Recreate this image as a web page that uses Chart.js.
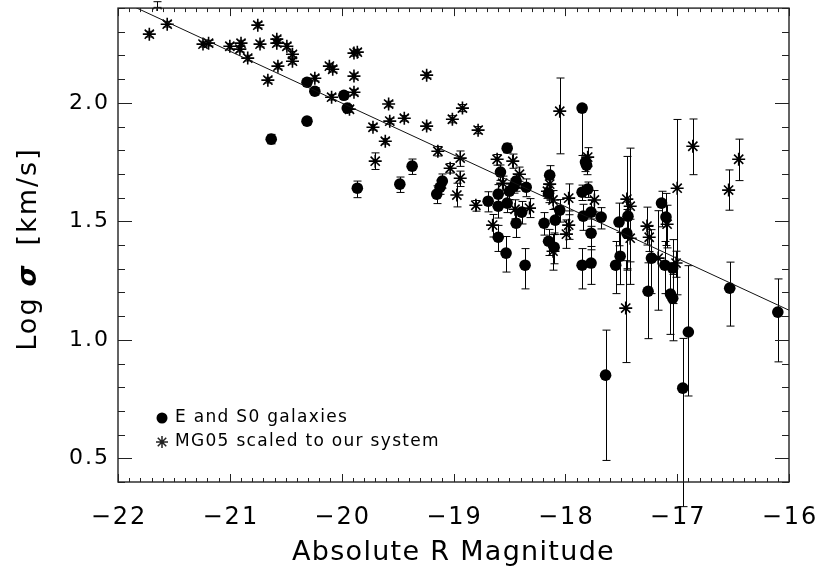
<!DOCTYPE html>
<html><head><meta charset="utf-8">
<script src="https://cdn.jsdelivr.net/npm/chart.js@4"></script>
<style>html,body{margin:0;padding:0;background:#fff;}</style>
</head><body>
<canvas id="c" width="820" height="573"></canvas>
<script>
// ---- E and S0 galaxies (filled circles) ----
const galX = [-20.63,-20.31,-20.31,-20.24,-19.98,-19.95,-19.86,-19.48,-19.37,-19.15,
  -19.12,-19.10,-18.52,-18.58,-18.60,-18.69,-18.60,-18.52,-18.50,-18.46,
  -18.44,-18.35,-18.39,-18.44,-18.60,-18.53,-18.36,-18.14,-18.15,-18.05,
  -18.09,-18.19,-18.15,-18.10,-17.85,-17.82,-17.81,-17.85,-17.80,-17.77,
  -17.84,-17.68,-17.77,-17.85,-17.77,-17.52,-17.44,-17.45,-17.51,-17.55,
  -17.14,-17.10,-17.23,-17.11,-17.04,-17.26,-17.06,-17.04,-16.53,-16.10,
  -17.64,-16.95,-16.90];
const galY = [1.847,1.923,2.087,2.049,2.032,1.978,1.640,1.657,1.733,1.615,
  1.644,1.670,1.809,1.708,1.615,1.585,1.564,1.577,1.627,1.649,
  1.670,1.644,1.539,1.492,1.433,1.366,1.315,1.695,1.619,1.547,
  1.505,1.492,1.416,1.391,1.978,1.750,1.737,1.623,1.636,1.539,
  1.522,1.518,1.450,1.315,1.324,1.497,1.522,1.450,1.353,1.315,
  1.577,1.518,1.345,1.315,1.303,1.205,1.193,1.176,1.218,1.117,
  0.851,0.796,1.033];
const galErrLo = [0.02,0.015,0.015,0.015,0.015,0.015,0.04,0.035,0.035,0.04,
  0.03,0.03,0.02,0.035,0.04,0.045,0.05,0.04,0.035,0.03,
  0.03,0.04,0.05,0.06,0.06,0.08,0.10,0.04,0.04,0.05,
  0.06,0.05,0.06,0.07,0.20,0.04,0.04,0.035,0.035,0.06,
  0.06,0.05,0.07,0.10,0.09,0.10,0.08,0.15,0.12,0.12,
  0.10,0.12,0.15,0.12,0.15,0.20,0.17,0.18,0.16,0.21,
  0.36,0.50,0.27];
const galErrHi = [0.02,0.015,0.015,0.015,0.015,0.015,0.03,0.03,0.03,0.035,
  0.03,0.03,0.02,0.03,0.04,0.04,0.045,0.04,0.03,0.03,
  0.03,0.035,0.045,0.05,0.05,0.07,0.07,0.04,0.035,0.045,
  0.05,0.045,0.05,0.06,0.015,0.03,0.03,0.03,0.03,0.05,
  0.05,0.04,0.06,0.07,0.07,0.08,0.07,0.10,0.10,0.10,
  0.05,0.10,0.12,0.10,0.12,0.12,0.12,0.10,0.11,0.14,
  0.19,0.21,0.28];

// ---- MG05 scaled to our system (asterisks) ----
const mgX = [-21.72,-21.56,-21.65,-21.24,-21.19,-21.00,-20.90,-20.91,-20.84,-20.75,
  -20.73,-20.66,-20.58,-20.58,-20.57,-20.49,-20.44,-20.44,-20.24,-20.11,
  -20.08,-19.89,-19.86,-19.89,-19.89,-20.09,-19.93,-19.58,-19.57,-19.72,
  -19.61,-19.70,-19.44,-19.24,-19.24,-19.01,-18.92,-18.78,-19.14,-18.94,
  -19.03,-18.94,-18.97,-18.80,-18.61,-18.47,-18.41,-18.56,-18.44,-18.65,
  -18.45,-18.32,-18.14,-18.16,-18.11,-17.97,-18.11,-17.97,-17.99,-18.05,
  -17.80,-17.74,-17.45,-17.42,-17.42,-17.27,-17.25,-17.09,-17.17,-17.01,
  -17.46,-17.00,-16.86,-16.54,-16.45];
const mgY = [2.290,2.332,2.415,2.248,2.252,2.239,2.252,2.227,2.189,2.328,
  2.248,2.096,2.269,2.252,2.155,2.239,2.205,2.176,2.104,2.155,
  2.142,2.210,2.214,2.113,2.045,2.024,1.973,1.995,1.923,1.897,
  1.838,1.754,1.935,2.117,1.902,1.931,1.978,1.885,1.796,1.767,
  1.724,1.682,1.611,1.568,1.762,1.754,1.699,1.661,1.657,1.484,
  1.551,1.556,1.657,1.627,1.590,1.598,1.374,1.484,1.446,1.965,
  1.771,1.590,1.594,1.564,1.429,1.480,1.433,1.488,1.345,1.324,
  1.134,1.640,1.817,1.632,1.762];
const mgErrLo = [0.012,0.012,0.012,0.012,0.012,0.012,0.012,0.012,0.012,0.012,
  0.012,0.012,0.012,0.012,0.012,0.012,0.012,0.012,0.012,0.012,
  0.012,0.012,0.012,0.012,0.012,0.012,0.012,0.012,0.012,0.012,
  0.012,0.035,0.012,0.012,0.012,0.015,0.015,0.015,0.02,0.035,
  0.02,0.035,0.05,0.025,0.025,0.03,0.03,0.03,0.03,0.05,
  0.04,0.04,0.03,0.03,0.04,0.07,0.08,0.06,0.06,0.18,
  0.04,0.05,0.30,0.33,0.10,0.08,0.06,0.10,0.22,0.06,
  0.23,0.45,0.12,0.085,0.09];
const mgErrHi = [0.012,0.012,0.012,0.012,0.012,0.012,0.012,0.012,0.012,0.012,
  0.012,0.012,0.012,0.012,0.012,0.012,0.012,0.012,0.012,0.012,
  0.012,0.012,0.012,0.012,0.012,0.012,0.012,0.012,0.012,0.012,
  0.012,0.035,0.012,0.012,0.012,0.015,0.015,0.015,0.02,0.03,
  0.02,0.03,0.05,0.02,0.02,0.03,0.03,0.03,0.03,0.045,
  0.04,0.04,0.03,0.03,0.04,0.06,0.07,0.06,0.06,0.14,
  0.04,0.04,0.18,0.245,0.08,0.08,0.05,0.08,0.20,0.05,
  0.20,0.29,0.115,0.085,0.085];

// ---- fitted relation ----
const fitX = [-22, -16];
const fitY = [2.437, 1.125];

// ---- axes ----
const xTickValues = [-22,-21,-20,-19,-18,-17,-16];
const xTickLabels = ['\u221222','\u221221','\u221220','\u221219','\u221218','\u221217','\u221216'];
const yTickValues = [0.5,1.0,1.5,2.0];
const yTickLabels = ['0.5','1.0','1.5','2.0'];
const xTitle = 'Absolute R Magnitude';
const yTitleParts = ['Log', '\u03c3', '[km/s]'];
const legendLabels = ['E and S0 galaxies', 'MG05 scaled to our system'];

const FONT = '"DejaVu Sans", sans-serif';

const errorBars = {
  id: 'errorBars',
  beforeDatasetsDraw(chart) {
    const ctx = chart.ctx, xs = chart.scales.x, ys = chart.scales.y;
    ctx.save();
    ctx.strokeStyle = '#000';
    ctx.lineWidth = 1;
    const draw = (X, Y, lo, hi) => {
      for (let i = 0; i < X.length; i++) {
        const px = Math.round(xs.getPixelForValue(X[i])) + 0.5;
        const pTop = ys.getPixelForValue(Y[i] + hi[i]);
        const pBot = ys.getPixelForValue(Y[i] - lo[i]);
        ctx.beginPath();
        ctx.moveTo(px, pTop); ctx.lineTo(px, pBot);
        ctx.moveTo(px - 4, pTop); ctx.lineTo(px + 4, pTop);
        ctx.moveTo(px - 4, pBot); ctx.lineTo(px + 4, pBot);
        ctx.stroke();
      }
    };
    draw(galX, galY, galErrLo, galErrHi);
    draw(mgX, mgY, mgErrLo, mgErrHi);
    ctx.restore();
  }
};

const frame = {
  id: 'frame',
  afterDraw(chart) {
    const ctx = chart.ctx, xs = chart.scales.x, ys = chart.scales.y;
    const a = chart.chartArea;
    ctx.save();
    ctx.strokeStyle = '#222';
    ctx.lineWidth = 1.4;
    ctx.strokeRect(a.left, a.top, a.right - a.left, a.bottom - a.top);
    ctx.lineWidth = 1;
    ctx.beginPath();
    for (let i = 0; i <= 60; i++) {
      const v = -22 + i / 10;
      const px = Math.round(xs.getPixelForValue(v)) + 0.5;
      const len = (i % 10 === 0) ? 8 : 4;
      ctx.moveTo(px, a.bottom); ctx.lineTo(px, a.bottom - len);
      ctx.moveTo(px, a.top); ctx.lineTo(px, a.top + len);
    }
    for (let i = 4; i <= 24; i++) {
      const v = i / 10;
      const py = Math.round(ys.getPixelForValue(v)) + 0.5;
      const len = (i % 5 === 0) ? 14 : 7;
      ctx.moveTo(a.left, py); ctx.lineTo(a.left + len, py);
      ctx.moveTo(a.right, py); ctx.lineTo(a.right - len, py);
    }
    ctx.stroke();

    ctx.fillStyle = '#000';
    // x tick labels
    ctx.font = '24px ' + FONT;
    ctx.letterSpacing = '2px';
    ctx.textAlign = 'center';
    ctx.textBaseline = 'middle';
    xTickValues.forEach((v, i) => {
      ctx.fillText(xTickLabels[i], xs.getPixelForValue(v) + 1, 518);
    });
    // y tick labels
    ctx.font = '22px ' + FONT;
    ctx.letterSpacing = '2px';
    ctx.textAlign = 'right';
    yTickValues.forEach((v, i) => {
      ctx.fillText(yTickLabels[i], 110, ys.getPixelForValue(v));
    });
    // x title
    ctx.font = '27px ' + FONT;
    ctx.letterSpacing = '1.3px';
    ctx.textAlign = 'center';
    ctx.fillText(xTitle, (a.left + a.right) / 2, 553);
    // y title
    ctx.save();
    ctx.translate(29, 249);
    ctx.rotate(-Math.PI / 2);
    ctx.textAlign = 'left';
    ctx.letterSpacing = '2px';
    const f1 = '27px ' + FONT, f2 = 'italic bold 27px ' + FONT;
    ctx.font = f1; const w0 = ctx.measureText(yTitleParts[0]).width;
    ctx.font = f2; const w1 = ctx.measureText(yTitleParts[1]).width;
    ctx.font = f1; const w2 = ctx.measureText(yTitleParts[2]).width;
    const g1 = 10, g2 = 18;
    const total = w0 + g1 + w1 + g2 + w2;
    let x0 = -total / 2;
    ctx.font = f1; ctx.fillText(yTitleParts[0], x0, 0);
    x0 += w0 + g1;
    ctx.font = f2; ctx.fillText(yTitleParts[1], x0, 0);
    x0 += w1 + g2;
    ctx.font = f1; ctx.fillText(yTitleParts[2], x0, 0);
    ctx.restore();

    // legend
    ctx.letterSpacing = '1.3px';
    ctx.font = '17px ' + FONT;
    ctx.textAlign = 'left';
    ctx.beginPath();
    ctx.arc(162, 418, 5.5, 0, Math.PI * 2);
    ctx.fill();
    ctx.fillText(legendLabels[0], 175, 418);
    ctx.beginPath();
    const cx = 162, cy = 442, r = 6;
    for (let k = 0; k < 4; k++) {
      const ang = k * Math.PI / 4;
      ctx.moveTo(cx - r * Math.cos(ang), cy - r * Math.sin(ang));
      ctx.lineTo(cx + r * Math.cos(ang), cy + r * Math.sin(ang));
    }
    ctx.lineWidth = 1.5;
    ctx.stroke();
    ctx.fillText(legendLabels[1], 175, 442);
    ctx.restore();
  }
};

new Chart(document.getElementById('c'), {
  type: 'scatter',
  data: {
    datasets: [
      { label: 'fit', type: 'line', data: fitX.map((x, i) => ({ x: x, y: fitY[i] })),
        borderColor: '#111', borderWidth: 1, pointRadius: 0, fill: false, tension: 0 },
      { label: legendLabels[0], data: galX.map((x, i) => ({ x: x, y: galY[i] })),
        pointStyle: 'circle', pointRadius: 5.8, backgroundColor: '#000', borderColor: '#000', borderWidth: 0 },
      { label: legendLabels[1], data: mgX.map((x, i) => ({ x: x, y: mgY[i] })),
        pointStyle: 'star', pointRadius: 6.5, backgroundColor: '#000', borderColor: '#000', borderWidth: 1.6 }
    ]
  },
  options: {
    responsive: false,
    animation: false,
    events: [],
    layout: { padding: { left: 118, right: 31, top: 7, bottom: 91 } },
    scales: {
      x: { type: 'linear', min: -22, max: -16, display: false },
      y: { type: 'linear', min: 0.4, max: 2.4, display: false }
    },
    plugins: { legend: { display: false }, tooltip: { enabled: false } }
  },
  plugins: [errorBars, frame]
});
</script>
</body></html>
